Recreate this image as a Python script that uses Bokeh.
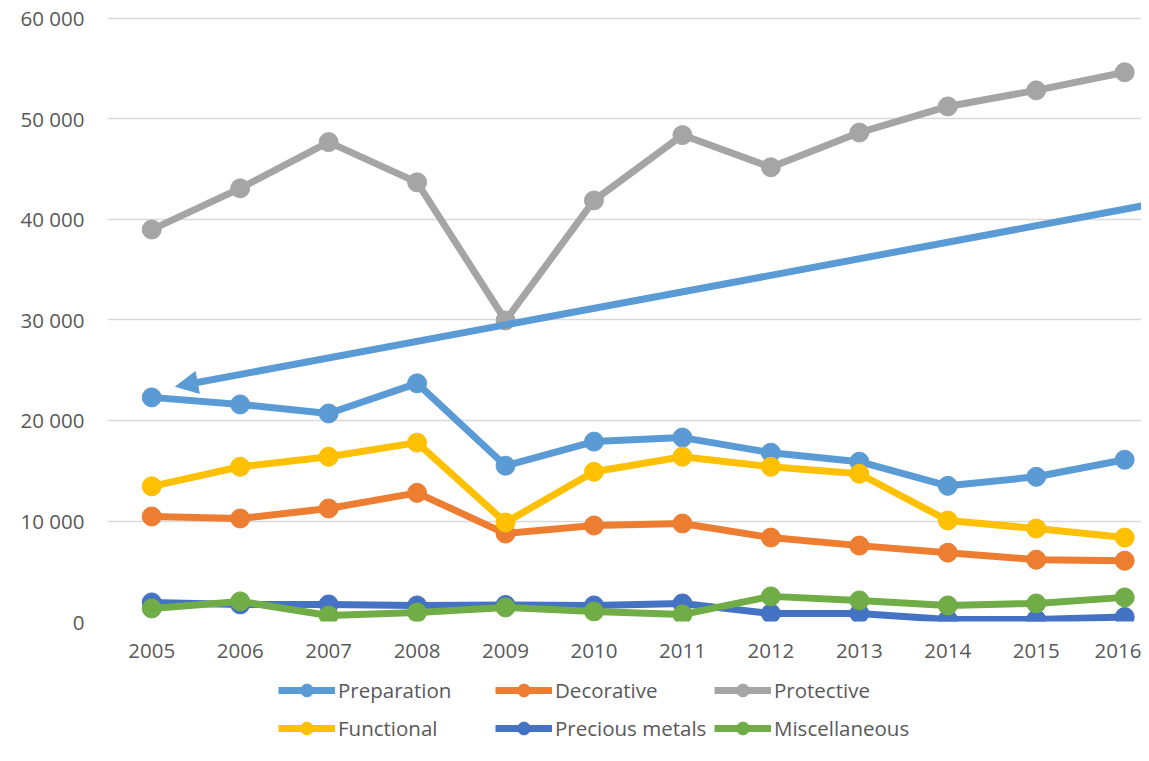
from bokeh.plotting import figure
from bokeh.layouts import column
from bokeh.models import (Range1d, FixedTicker, Legend, LegendItem, Arrow, NormalHead)
from bokeh.embed import file_html
from bokeh.resources import INLINE

years = [2005, 2006, 2007, 2008, 2009, 2010, 2011, 2012, 2013, 2014, 2015, 2016]
preparation = [22300, 21600, 20700, 23700, 15500, 17900, 18300, 16800, 15900, 13500, 14400, 16100]
decorative = [10450, 10250, 11250, 12800, 8750, 9550, 9750, 8350, 7550, 6850, 6150, 6050]
protective = [39000, 43100, 47700, 43700, 29950, 41900, 48400, 45200, 48650, 51250, 52850, 54650]
functional = [13450, 15400, 16400, 17800, 9850, 14900, 16400, 15400, 14700, 10050, 9250, 8350]
precious_metals = [1900, 1700, 1700, 1600, 1650, 1600, 1800, 800, 800, 200, 200, 450]
miscellaneous = [1300, 2000, 600, 900, 1400, 1000, 700, 2500, 2100, 1600, 1800, 2400]

series_names = ["Preparation", "Decorative", "Protective", "Functional", "Precious metals", "Miscellaneous"]
series_values = [preparation, decorative, protective, functional, precious_metals, miscellaneous]
series_colors = ["#5B9BD5", "#ED7D31", "#A5A5A5", "#FFC000", "#4472C4", "#70AD47"]

y_ticks = [0, 10000, 20000, 30000, 40000, 50000, 60000]
y_tick_labels = ["0", "10 000", "20 000", "30 000", "40 000", "50 000", "60 000"]

# annotation arrow (drawn shape over the chart), data coordinates
arrow_start = (2016.19, 41340)
arrow_end = (2005.27, 23380)

W = 1141
font = "Open Sans"
fs = "20.5px"
txt_color = "#595959"

p = figure(width=W, height=672, output_backend="svg", toolbar_location=None,
           x_range=Range1d(2004.5, 2016.19), y_range=Range1d(0, 60199),
           min_border_left=107, min_border_right=0, min_border_top=16, min_border_bottom=51)
p.outline_line_color = None

p.xaxis.ticker = FixedTicker(ticks=years)
p.xaxis.major_label_overrides = {y: str(y) for y in years}
p.yaxis.ticker = FixedTicker(ticks=y_ticks)
p.yaxis.major_label_overrides = {t: l for t, l in zip(y_ticks, y_tick_labels)}
for ax in (p.xaxis[0], p.yaxis[0]):
    ax.axis_line_color = None
    ax.major_tick_line_color = None
    ax.minor_tick_line_color = None
    ax.major_tick_out = 0
    ax.major_tick_in = 0
    ax.minor_tick_out = 0
    ax.major_label_text_font = font
    ax.major_label_text_font_size = fs
    ax.major_label_text_color = txt_color
p.xaxis.major_label_standoff = 22
p.yaxis.major_label_standoff = 23

p.xgrid.grid_line_color = None
p.ygrid.grid_line_color = "#D9D9D9"
p.ygrid.grid_line_width = 1.5

for name, vals, col in zip(series_names, series_values, series_colors):
    p.line(years, vals, line_color=col, line_width=7)
    p.scatter(years, vals, marker="circle", size=19, fill_color=col, line_color=col)

p.add_layout(Arrow(end=NormalHead(size=22, fill_color="#5B9BD5", line_color="#5B9BD5", line_width=1),
                   x_start=arrow_start[0], y_start=arrow_start[1],
                   x_end=arrow_end[0], y_end=arrow_end[1],
                   line_color="#5B9BD5", line_width=7))

# legend strip below the chart (its frame is aligned with the chart's frame)
lf = figure(width=W, height=73, output_backend="svg", toolbar_location=None,
            x_range=Range1d(0, 1), y_range=Range1d(0, 1),
            x_axis_location=None, y_axis_location=None,
            min_border_left=107, min_border_right=0, min_border_top=0, min_border_bottom=0)
lf.outline_line_color = None
lf.grid.grid_line_color = None

legend_renderers = {}
for name, vals, col in zip(series_names, series_values, series_colors):
    l = lf.line(years, vals, line_color=col, line_width=7)
    s = lf.scatter(years, vals, marker="circle", fill_color=col, line_color=col)
    legend_renderers[name] = [l, s]

columns = [["Preparation", "Functional"], ["Decorative", "Precious metals"], ["Protective", "Miscellaneous"]]
col_x = [171, 388, 607]
for names, x in zip(columns, col_x):
    leg = Legend(items=[LegendItem(label=n, renderers=legend_renderers[n]) for n in names],
                 location=(x, 1), orientation="vertical",
                 glyph_width=57, glyph_height=32, label_height=20, label_standoff=3,
                 spacing=6, padding=0, margin=0,
                 border_line_color=None, background_fill_alpha=0,
                 label_text_font=font, label_text_font_size=fs, label_text_color=txt_color)
    lf.add_layout(leg, "center")

open("out.html", "w").write(file_html(column(p, lf, spacing=0), INLINE))
